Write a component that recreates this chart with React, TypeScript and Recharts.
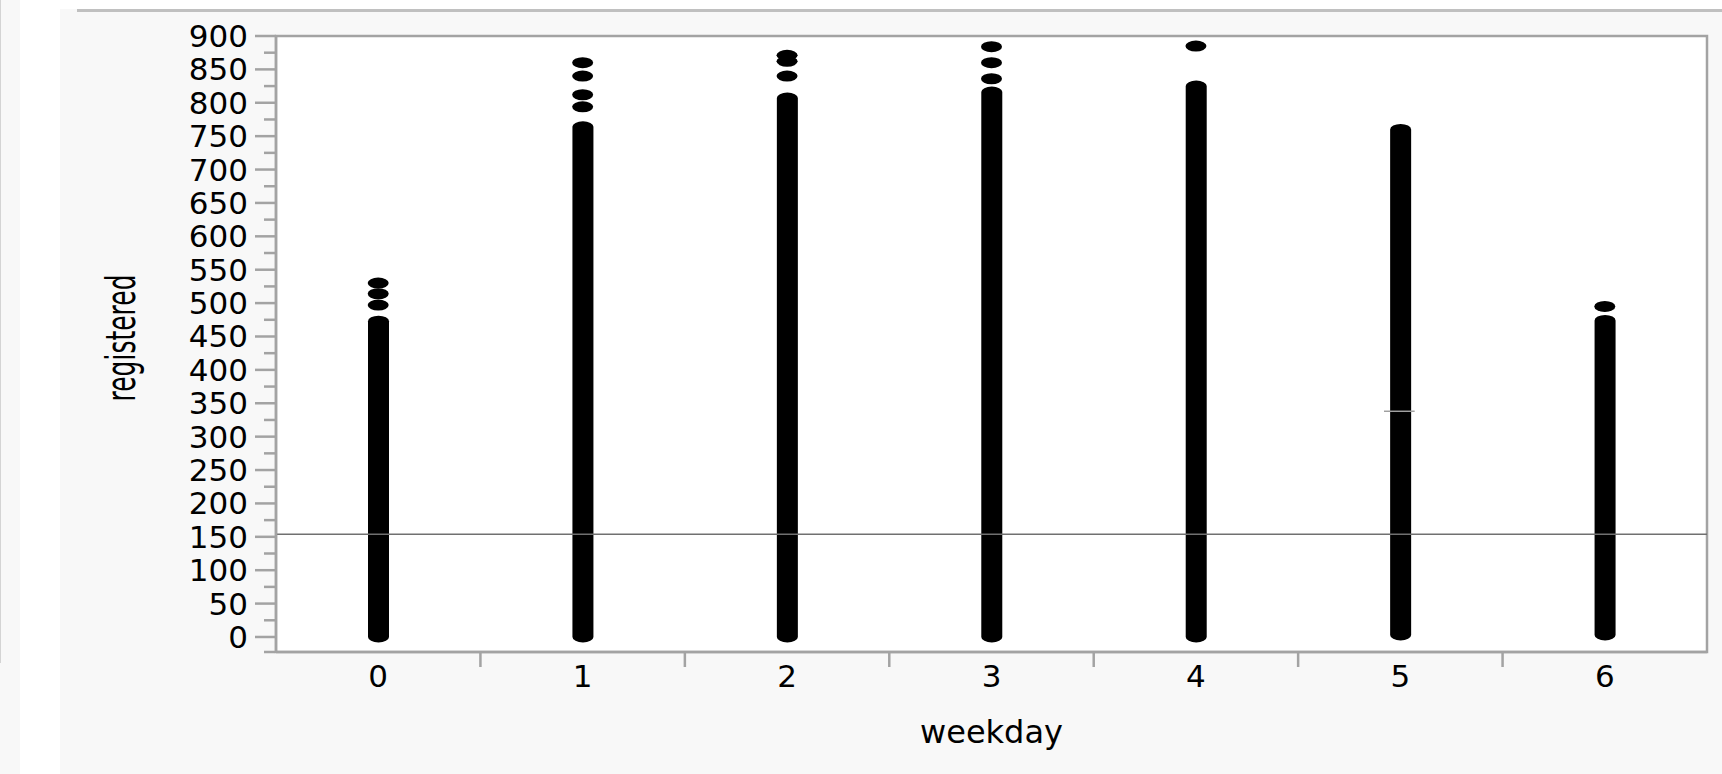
import React from "react";
import {
  Bar,
  CartesianGrid,
  ComposedChart,
  ReferenceArea,
  ReferenceLine,
  Scatter,
  XAxis,
  YAxis,
} from "recharts";

const weekdays = [0, 1, 2, 3, 4, 5, 6];
// solid run of overlapping points per weekday (bottom / top of the run)
const bandLow = [0, 0, 0, 0, 0, 3, 3];
const bandHigh = [473, 764, 807, 816, 825, 760, 474];
// separate points sitting above the solid run
const topPoints = [
  [530, 514, 497],
  [860, 840, 812, 794],
  [871, 862, 840],
  [884, 860, 836],
  [885],
  [],
  [495],
];
const meanRegistered = 153.8;
const markerDay5 = 338;

const yTicks = [0, 50, 100, 150, 200, 250, 300, 350, 400, 450, 500, 550, 600, 650, 700, 750, 800, 850, 900];
const yMinorTicks = [-22.5, 25, 75, 125, 175, 225, 275, 325, 375, 425, 475, 525, 575, 625, 675, 725, 775, 825, 875];
const xSeparators = [0.5, 1.5, 2.5, 3.5, 4.5, 5.5];

const bandData = weekdays.map((d, i) => ({ day: d, band: [bandLow[i], bandHigh[i]] }));
const pointData = weekdays.flatMap((d, i) => topPoints[i].map((v) => ({ day: d, value: v })));

const AXIS = "#a3a3a3";
const FONT = "DejaVu Sans";

const Capsule = (props: any) => {
  const { x, y, width, height } = props;
  const top = Math.min(y, y + height);
  const h = Math.abs(height);
  const rx = width / 2;
  const ry = 5.5;
  return (
    <path
      d={`M${x},${top} A${rx},${ry} 0 0 1 ${x + width},${top} L${x + width},${top + h} A${rx},${ry} 0 0 1 ${x},${top + h} Z`}
      fill="#000"
    />
  );
};

const Dot = (props: any) => <ellipse cx={props.cx} cy={props.cy} rx={10.5} ry={5.5} fill="#000" />;

const NoLabel = () => <g />;

const YTitle = (props: any) => {
  const vb = props.viewBox;
  const bx = vb.x + vb.width - 141;
  const cy = vb.y + vb.height / 2 - 6;
  return (
    <text
      transform={`translate(${bx},${cy}) rotate(-90) scale(1,1.6)`}
      textAnchor="middle"
      fontFamily={FONT}
      fontSize={25}
      fill="#000"
    >
      registered
    </text>
  );
};

export default function App() {
  return (
    <div style={{ position: "absolute", left: 0, top: 0, width: 1722, height: 774, background: "#fff" }}>
      <div style={{ position: "absolute", left: 0, top: 0, width: 20, height: 774, background: "#f8f8f8" }} />
      <div style={{ position: "absolute", left: 0, top: 0, width: 1, height: 663, background: "#d4d4d4" }} />
      <div style={{ position: "absolute", left: 60, top: 9, width: 1662, height: 765, background: "#f8f8f8" }} />
      <div style={{ position: "absolute", left: 77, top: 9, width: 1645, height: 3, background: "#c0c0c0" }} />
      <div style={{ position: "absolute", left: 0, top: 0 }}>
        <ComposedChart
          width={1722}
          height={774}
          data={bandData}
          margin={{ top: 36, right: 15, bottom: 120, left: 274 }}
        >
          <CartesianGrid fill="#ffffff" horizontal={false} vertical={false} />
          <XAxis
            xAxisId="sep"
            dataKey="day"
            type="number"
            domain={[-0.5, 6.5]}
            ticks={xSeparators}
            height={1}
            tick={NoLabel}
            tickSize={14}
            axisLine={false}
            tickLine={{ stroke: AXIS, strokeWidth: 2.5 }}
            interval={0}
            allowDataOverflow
          />
          <XAxis
            dataKey="day"
            type="number"
            domain={[-0.5, 6.5]}
            ticks={weekdays}
            height={1}
            tickLine={false}
            tickSize={11}
            tickMargin={2}
            axisLine={{ stroke: AXIS, strokeWidth: 2.5 }}
            tick={{ fill: "#000", fontSize: 31, fontFamily: FONT }}
            interval={0}
            allowDataOverflow
            label={{ value: "weekday", position: "bottom", offset: 67, fill: "#000", fontSize: 32, fontFamily: FONT }}
          />
          <YAxis
            yAxisId="minor"
            type="number"
            domain={[-22.5, 900]}
            ticks={yMinorTicks}
            width={1}
            tick={NoLabel}
            tickSize={11}
            axisLine={false}
            tickLine={{ stroke: AXIS, strokeWidth: 2.5 }}
            interval={0}
            allowDataOverflow
          />
          <YAxis
            type="number"
            domain={[-22.5, 900]}
            ticks={yTicks}
            width={1}
            tickSize={21}
            tickMargin={7}
            axisLine={{ stroke: AXIS, strokeWidth: 2.5 }}
            tickLine={{ stroke: AXIS, strokeWidth: 2.5 }}
            tick={{ fill: "#000", fontSize: 31, fontFamily: FONT }}
            interval={0}
            allowDataOverflow
            label={{ content: YTitle }}
          />
          <ReferenceLine y={meanRegistered} stroke="#707070" strokeWidth={1.5} />
          <Bar dataKey="band" barSize={21} shape={Capsule} isAnimationActive={false} />
          <Scatter data={pointData} dataKey="value" shape={Dot} isAnimationActive={false} />
          <ReferenceLine
            segment={[
              { x: 4.92, y: markerDay5 },
              { x: 5.07, y: markerDay5 },
            ]}
            stroke="#a0a0a0"
            strokeWidth={1.5}
          />
          <ReferenceArea
            x1={-0.5}
            x2={6.5}
            y1={-22.5}
            y2={900}
            fill="none"
            stroke={AXIS}
            strokeWidth={2.5}
            ifOverflow="visible"
          />
        </ComposedChart>
      </div>
    </div>
  );
}
